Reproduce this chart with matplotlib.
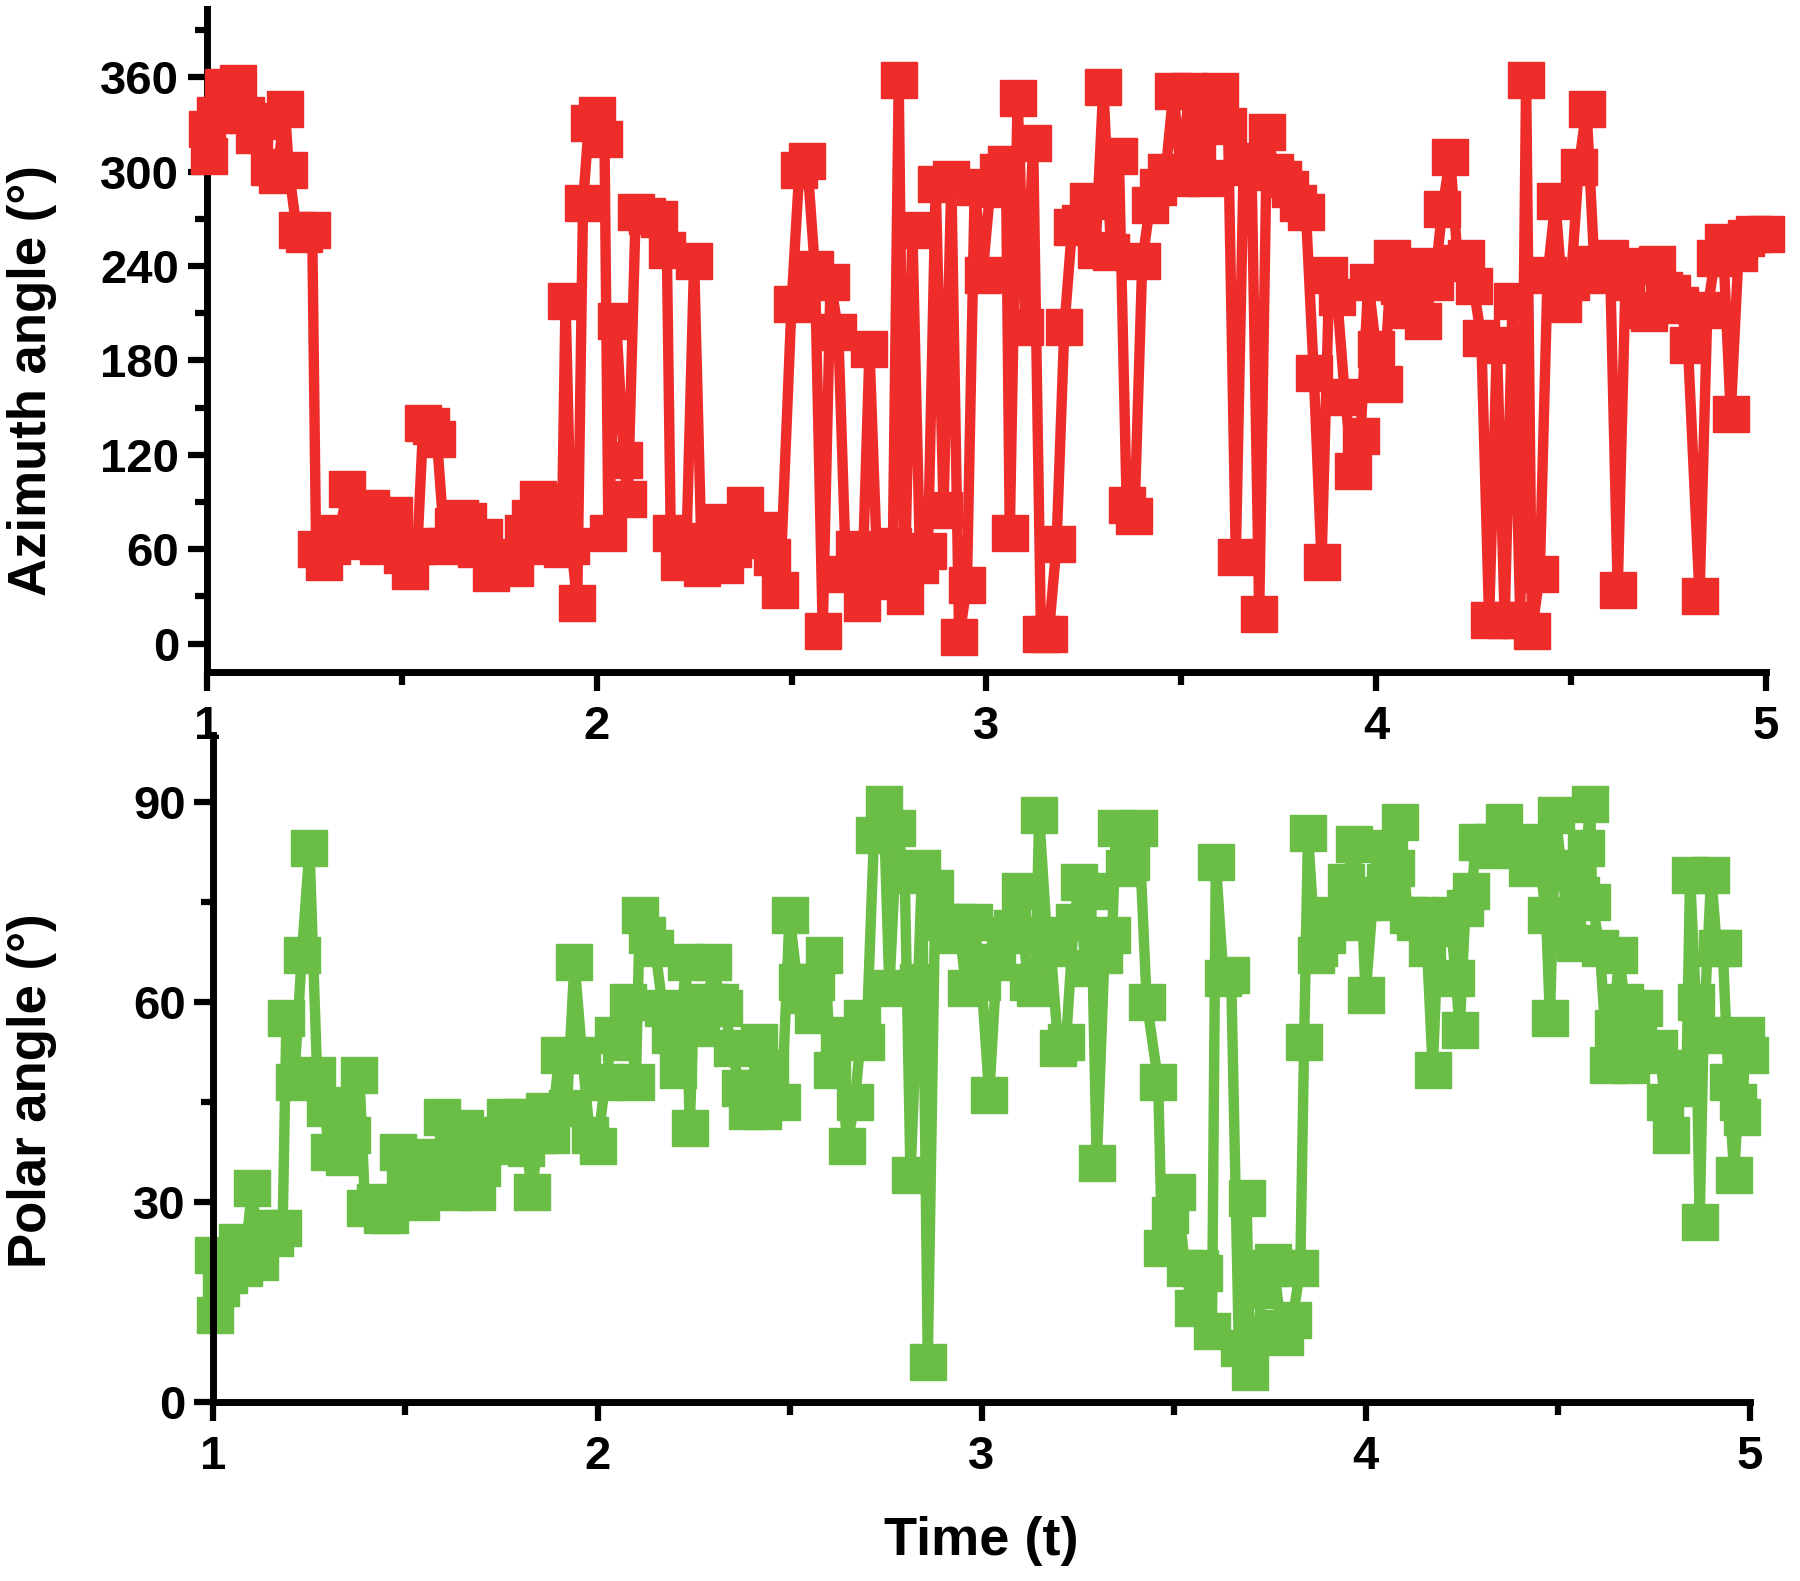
import matplotlib
matplotlib.use("Agg")
import matplotlib.pyplot as plt
from matplotlib.ticker import MultipleLocator

plt.rcParams['font.family'] = ['Liberation Sans', 'DejaVu Sans']
plt.rcParams['font.weight'] = 'bold'

# azimuth angle (top panel)
t_az = [1.00, 1.005, 1.02, 1.04, 1.06, 1.08, 1.10, 1.12, 1.14, 1.16, 1.18, 1.20, 1.21, 1.23, 1.25, 1.27,
        1.28, 1.30, 1.32, 1.34, 1.36, 1.38, 1.40, 1.42, 1.44, 1.46, 1.48, 1.50, 1.52, 1.54, 1.555, 1.575,
        1.59, 1.61, 1.63, 1.65, 1.67, 1.69, 1.71, 1.73, 1.75, 1.77, 1.79, 1.81, 1.83, 1.85, 1.87, 1.89,
        1.91, 1.92, 1.935, 1.95, 1.965, 1.98, 2.00, 2.02, 2.03, 2.05, 2.07, 2.08, 2.10, 2.13, 2.16, 2.18,
        2.19, 2.21, 2.23, 2.25, 2.27, 2.29, 2.31, 2.33, 2.35, 2.38, 2.40, 2.42, 2.45, 2.47, 2.50, 2.52,
        2.54, 2.56, 2.58, 2.60, 2.62, 2.64, 2.66, 2.68, 2.70, 2.72, 2.74, 2.76, 2.775, 2.79, 2.81, 2.83,
        2.85, 2.87, 2.89, 2.91, 2.93, 2.95, 2.97, 2.99, 3.01, 3.03, 3.05, 3.06, 3.08, 3.10, 3.12, 3.14,
        3.16, 3.18, 3.20, 3.22, 3.24, 3.26, 3.28, 3.30, 3.32, 3.34, 3.36, 3.38, 3.40, 3.42, 3.44, 3.46,
        3.48, 3.50, 3.52, 3.54, 3.56, 3.58, 3.60, 3.62, 3.64, 3.66, 3.68, 3.70, 3.72, 3.74, 3.76, 3.78,
        3.80, 3.82, 3.84, 3.86, 3.88, 3.90, 3.92, 3.94, 3.96, 3.98, 4.00, 4.02, 4.04, 4.06, 4.08, 4.10,
        4.12, 4.15, 4.17, 4.19, 4.21, 4.23, 4.25, 4.27, 4.29, 4.31, 4.33, 4.35, 4.37, 4.385, 4.40, 4.42,
        4.44, 4.46, 4.48, 4.50, 4.52, 4.54, 4.56, 4.58, 4.60, 4.62, 4.64, 4.66, 4.68, 4.70, 4.72, 4.74,
        4.76, 4.78, 4.80, 4.83, 4.85, 4.87, 4.89, 4.91, 4.93, 4.95, 4.97, 5.00]
azimuth = [327, 310, 336, 354, 352, 356, 336, 323, 332, 303, 298, 340, 301, 263, 260, 263,
           60, 52, 62, 70, 98, 65, 75, 86, 62, 70, 82, 56, 46, 62, 140, 138,
           130, 62, 75, 80, 78, 60, 68, 45, 52, 55, 48, 70, 80, 92, 62, 90,
           60, 218, 62, 26, 280, 331, 336, 321, 70, 205, 117, 92, 274, 272, 270, 250,
           70, 52, 60, 243, 48, 65, 77, 50, 60, 88, 66, 72, 55, 34, 216, 301,
           307, 238, 8, 230, 198, 44, 60, 26, 187, 48, 40, 62, 358, 30, 263, 50,
           59, 292, 85, 295, 4, 37, 290, 234, 289, 300, 305, 70, 347, 201, 318, 6,
           6, 63, 201, 265, 267, 281, 250, 354, 249, 310, 88, 81, 243, 279, 290, 300,
           351, 296, 351, 315, 296, 332, 351, 329, 55, 303, 307, 19, 325, 300, 295, 289,
           280, 274, 172, 52, 234, 220, 157, 110, 132, 230, 187, 165, 245, 227, 212, 240,
           205, 230, 276, 309, 242, 245, 227, 194, 15, 190, 15, 218, 15, 358, 8, 44,
           234, 281, 216, 230, 303, 340, 241, 234, 245, 34, 230, 240, 212, 210, 241, 225,
           223, 215, 190, 30, 212, 245, 255, 146, 248, 258, 260, 260]

# polar angle (bottom panel)
t_po = [1.00, 1.005, 1.02, 1.04, 1.06, 1.08, 1.10, 1.12, 1.14, 1.16, 1.18, 1.19, 1.21, 1.23, 1.25, 1.27,
        1.29, 1.30, 1.32, 1.34, 1.36, 1.38, 1.395, 1.42, 1.44, 1.46, 1.48, 1.50, 1.52, 1.54, 1.56, 1.58,
        1.595, 1.61, 1.625, 1.64, 1.655, 1.67, 1.685, 1.70, 1.73, 1.75, 1.76, 1.78, 1.80, 1.815, 1.83, 1.845,
        1.86, 1.88, 1.90, 1.92, 1.94, 1.96, 1.98, 2.00, 2.02, 2.04, 2.06, 2.08, 2.10, 2.11, 2.13, 2.15,
        2.17, 2.19, 2.21, 2.23, 2.24, 2.25, 2.27, 2.29, 2.30, 2.32, 2.33, 2.35, 2.37, 2.39, 2.40, 2.42,
        2.43, 2.45, 2.48, 2.50, 2.52, 2.54, 2.56, 2.57, 2.59, 2.61, 2.63, 2.65, 2.67, 2.69, 2.70, 2.72,
        2.745, 2.76, 2.78, 2.80, 2.815, 2.835, 2.845, 2.86, 2.88, 2.90, 2.92, 2.94, 2.96, 2.98, 3.00, 3.02,
        3.04, 3.06, 3.08, 3.10, 3.12, 3.14, 3.15, 3.17, 3.18, 3.20, 3.22, 3.24, 3.255, 3.27, 3.285, 3.30,
        3.32, 3.34, 3.35, 3.37, 3.39, 3.41, 3.43, 3.46, 3.47, 3.49, 3.51, 3.53, 3.55, 3.57, 3.58, 3.60,
        3.61, 3.63, 3.65, 3.67, 3.69, 3.70, 3.72, 3.73, 3.75, 3.76, 3.78, 3.79, 3.81, 3.83, 3.84, 3.85,
        3.87, 3.88, 3.90, 3.92, 3.94, 3.95, 3.97, 3.99, 4.00, 4.02, 4.03, 4.05, 4.06, 4.08, 4.09, 4.11,
        4.13, 4.14, 4.16, 4.175, 4.19, 4.21, 4.22, 4.235, 4.245, 4.26, 4.275, 4.29, 4.315, 4.33, 4.35, 4.36,
        4.38, 4.405, 4.42, 4.44, 4.45, 4.47, 4.48, 4.495, 4.51, 4.525, 4.545, 4.56, 4.575, 4.585, 4.59, 4.61,
        4.63, 4.645, 4.66, 4.675, 4.69, 4.71, 4.725, 4.745, 4.765, 4.78, 4.795, 4.81, 4.82, 4.835, 4.845, 4.86,
        4.87, 4.88, 4.90, 4.915, 4.93, 4.945, 4.96, 4.97, 4.98, 4.99, 5.00]
polar = [22, 13, 17, 19, 24, 20, 32, 21, 26, 24.5, 26, 57.5, 48, 67, 83, 49,
         44, 37.5, 44.5, 36.7, 40, 49, 29, 30, 28, 28, 37.5, 32, 33, 30, 36.7, 34,
         42.7, 36, 31.4, 38, 41, 33, 31.4, 35, 38.4, 40, 42.7, 40, 42.7, 38, 31.4, 40,
         43.6, 40, 52, 44, 66, 52, 40, 38.4, 48, 55, 54, 60, 48, 73, 70, 68,
         59, 55, 49.7, 66, 41, 57.5, 56, 60, 66, 60, 59, 53, 47, 43.6, 47, 54,
         43.6, 50, 45, 73, 63, 61, 58, 63, 67, 49.7, 55, 38.4, 45, 57.5, 54, 85,
         89.6, 62, 86, 79, 34, 63, 80, 6, 77, 72, 70, 72, 62, 72, 63, 46,
         66, 70, 71, 76.6, 63, 62, 88, 70, 68, 53, 54, 72, 78, 65, 76.6, 35.8,
         67, 70, 86, 80, 81, 86, 60, 48, 23, 28, 31.4, 20, 14, 20, 19.3, 10.6,
         81, 63.6, 64, 8, 30.6, 4.5, 10, 16.7, 20, 21, 11, 9.7, 12.3, 20, 54, 85.3,
         67, 68, 70, 73, 72, 78, 83.6, 75, 61, 76, 75, 78, 83, 80, 87, 73,
         72, 73, 68, 49.7, 72, 71, 73, 63.6, 55.8, 74, 76.6, 84, 82.7, 84, 83, 87,
         83, 82.7, 80, 84, 82.7, 73, 57.5, 88, 80, 73, 68.8, 76, 83, 89.6, 75, 68,
         50.5, 56, 67, 60, 50.5, 55, 59, 52, 53, 45, 40, 50, 49.7, 47, 79, 60,
         27, 55, 79, 68, 68, 48, 34, 45, 42.7, 55, 52]

RED = '#EE2C2A'
GREEN = '#6ABD45'

fig = plt.figure(figsize=(18, 15.81), dpi=100)
ax1 = fig.add_axes([0.115, 0.575, 0.866, 0.419])
ax2 = fig.add_axes([0.1186, 0.1134, 0.8534, 0.4216])
ax2.patch.set_visible(False)  # keep top panel's x labels visible

ax1.plot(t_az, azimuth, color=RED, lw=7.5, marker='s', ms=26, clip_on=False, zorder=3)
ax2.plot(t_po, polar, color=GREEN, lw=7.5, marker='s', ms=26, clip_on=False, zorder=2)

ax1.set_ylim(-18, 403)
ax1.yaxis.set_major_locator(MultipleLocator(60))
ax1.yaxis.set_minor_locator(MultipleLocator(30))
ax2.set_ylim(0, 100)
ax2.yaxis.set_major_locator(MultipleLocator(30))
ax2.yaxis.set_minor_locator(MultipleLocator(15))

for ax in (ax1, ax2):
    ax.set_xlim(1, 5)
    ax.xaxis.set_major_locator(MultipleLocator(1))
    ax.xaxis.set_minor_locator(MultipleLocator(0.5))
    for side in ('top', 'right'):
        ax.spines[side].set_visible(False)
    for side in ('left', 'bottom'):
        ax.spines[side].set_linewidth(5)
    ax.tick_params(which='major', direction='out', length=14, width=4.5,
                   labelsize=34)
    ax.tick_params(which='minor', direction='out', length=9, width=4.5)
    ax.tick_params(axis='x', which='major', pad=10)
    ax.tick_params(axis='y', which='major', pad=6)
    for lab in ax.get_xticklabels() + ax.get_yticklabels():
        lab.set_fontweight('bold')

ax1.set_ylabel('Azimuth angle (°)', fontsize=38, fontweight='bold')
ax1.yaxis.set_label_coords(-0.096, 0.44)
ax2.set_ylabel('Polar angle (°)', fontsize=38, fontweight='bold')
ax2.yaxis.set_label_coords(-0.102, 0.466)

fig.text(0.545, 0.025, 'Time (t)', fontsize=39, fontweight='bold',
         ha='center', va='center')

fig.savefig('out.png', dpi=100)
